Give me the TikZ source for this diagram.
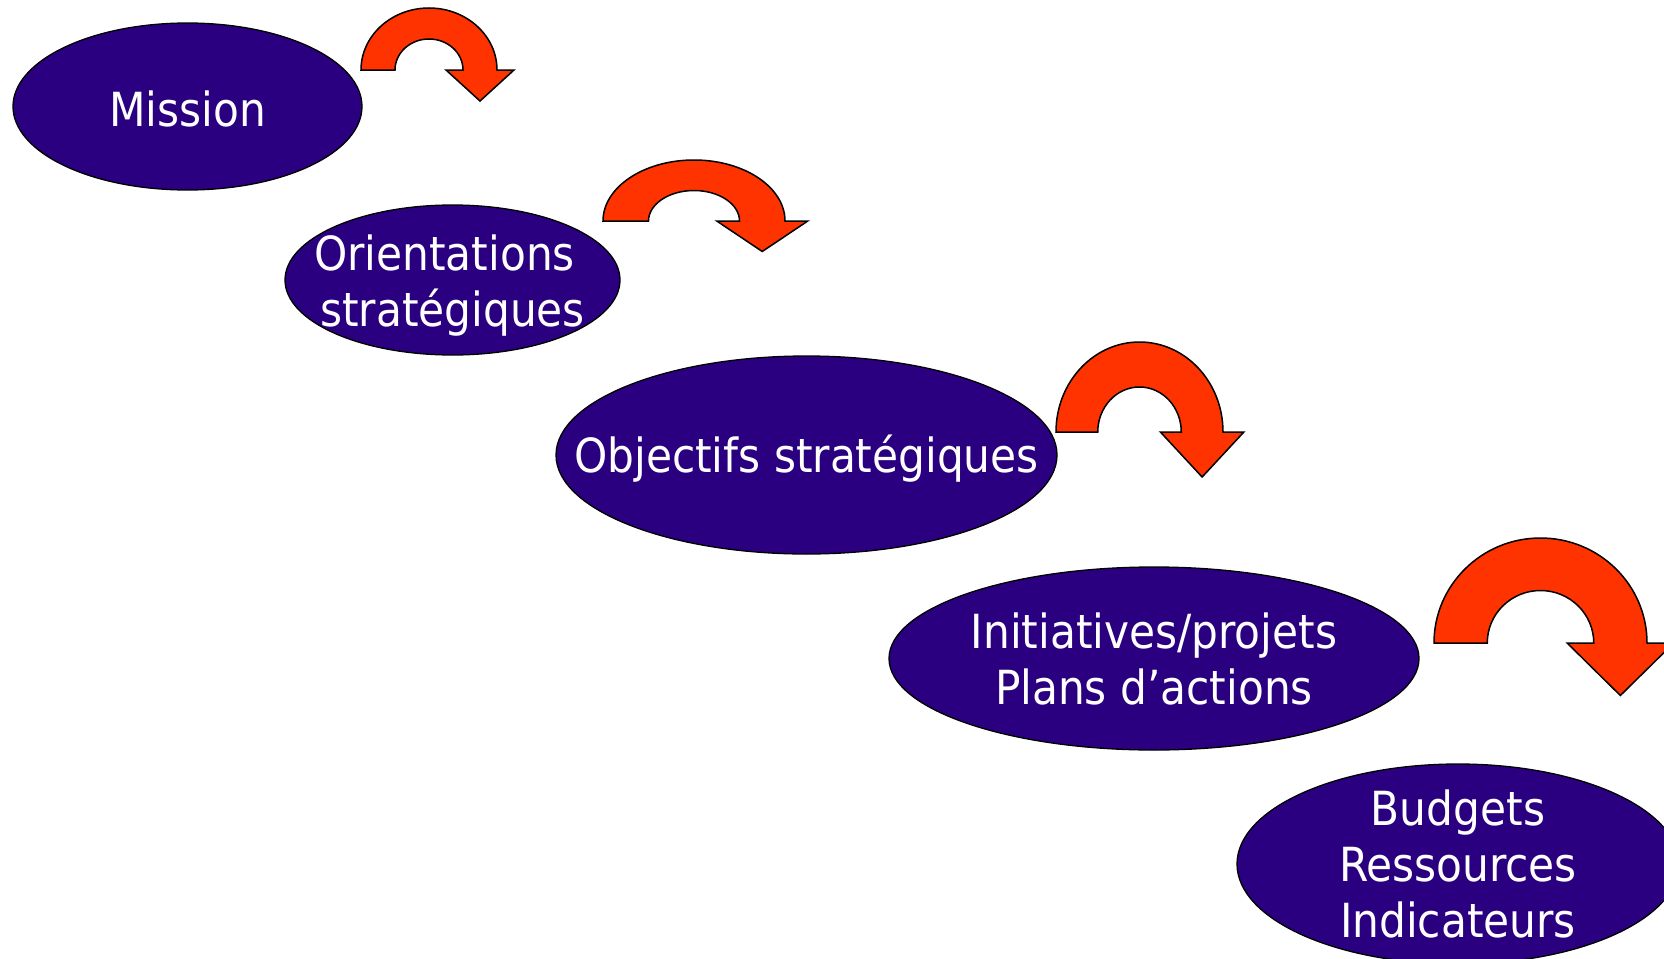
\documentclass[tikz,border=0pt]{standalone}
\usepackage{fontspec}
\setmainfont{DejaVu Sans Condensed}
\usetikzlibrary{shapes.geometric}

\definecolor{ovalblue}{RGB}{42,0,128}
\definecolor{turnred}{RGB}{255,51,0}

\begin{document}
\begin{tikzpicture}[
  x=1pt, y=-1pt,
  oval/.style={ellipse, draw=black, line width=1.3pt, fill=ovalblue, inner sep=0pt},
  ovaltext/.style={text=white, align=center, inner sep=0pt, font=\fontsize{47}{56}\selectfont},
  arrowbody/.style={draw=black, line width=1.5pt, fill=turnred, line join=miter},
  turnarrow/.pic={
    \path[pic actions] (-1,0) arc[start angle=180, end angle=0, radius=1]
      -- (1.25,0) -- (0.75,-0.5) -- (0.25,0) -- (0.5,0)
      arc[start angle=0, end angle=180, radius=0.5] -- cycle;
  }
]

\useasboundingbox (0,0) rectangle (1664,958);
\clip (0,0) rectangle (1664,958);

% -------------------------
% STEPS (ovals)
% -------------------------

\node[oval, minimum width=349pt, minimum height=167pt,
  label={[ovaltext, yshift=-2pt]center:Mission}] (mission) at (187.5,106.5) {};

\node[oval, minimum width=335pt, minimum height=150pt,
  label={[ovaltext, yshift=-6pt]center:Orientations\hspace*{16pt}\\stratégiques}] (orient) at (452.5,280) {};

\node[oval, minimum width=501pt, minimum height=198pt,
  label={[ovaltext, yshift=-4pt]center:Objectifs stratégiques}] (objectifs) at (806.5,455) {};

\node[oval, minimum width=530pt, minimum height=183pt,
  label={[ovaltext]center:Initiatives/projets\\Plans d’actions}] (initiatives) at (1154,658.5) {};

\node[oval, minimum width=442pt, minimum height=200pt,
  label={[ovaltext]center:Budgets\\Ressources\\Indicateurs}] (budgets) at (1458,864) {};

% -------------------------
% TURN ARROWS (between steps)
% -------------------------

\pic[arrowbody, xscale=68, yscale=-62] (turn1) at (429,70) {turnarrow};
\pic[arrowbody, xscale=91, yscale=-61] (turn2) at (694,221) {turnarrow};
\pic[arrowbody, xscale=83.5, yscale=-90] (turn3) at (1139.5,432) {turnarrow};
\pic[arrowbody, xscale=106.5, yscale=-105] (turn4) at (1540.5,643) {turnarrow};

\end{tikzpicture}
\end{document}
